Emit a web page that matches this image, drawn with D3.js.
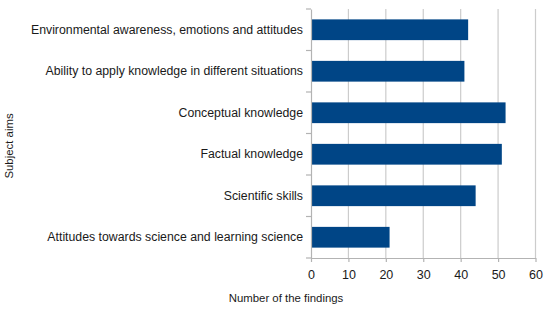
<!DOCTYPE html>
<html>
<head>
<meta charset="utf-8">
<script src="https://cdn.jsdelivr.net/npm/d3@7"></script>
<style>
  body { margin: 0; background: #fff; }
  svg { font-family: "Liberation Sans", Arial, sans-serif; }
</style>
</head>
<body>
<svg></svg>
<script>
const categories = [
    'Environmental awareness, emotions and attitudes',
    'Ability to apply knowledge in different situations',
    'Conceptual knowledge',
    'Factual knowledge',
    'Scientific skills',
    'Attitudes towards science and learning science'
];
const findings = [42, 41, 52, 51, 44, 21];
const xTicks = [0, 10, 20, 30, 40, 50, 60];

const width = 550;
const height = 312;
const plotLeft = 311;
const plotRight = 535.5;
const plotTop = 9;
const plotBottom = 258;

let svg = d3.select('svg')
    .attr('width', width)
    .attr('height', height)

let xScale = d3.scaleLinear()
    .domain([0, 60])
    .range([plotLeft, plotRight])

let yScale = d3.scaleBand()
    .domain(categories)
    .range([plotTop, plotBottom])
    .paddingInner(0.5)
    .paddingOuter(0.25)

// gridlines
svg.append('g')
    .selectAll('line')
    .data(xTicks.slice(1))
    .enter()
    .append('line')
    .attr('x1', d => xScale(d))
    .attr('x2', d => xScale(d))
    .attr('y1', plotTop)
    .attr('y2', plotBottom)
    .attr('stroke', '#cccccc')
    .attr('stroke-width', 1.2)

// bars
svg.selectAll('rect.bar')
    .data(findings)
    .enter()
    .append('rect')
    .attr('class', 'bar')
    .attr('x', xScale(0))
    .attr('y', (d, i) => yScale(categories[i]))
    .attr('width', d => xScale(d) - xScale(0))
    .attr('height', yScale.bandwidth())
    .attr('fill', '#004586')

// x axis
let xAxis = d3.axisBottom(xScale)
    .tickValues(xTicks)
    .tickSize(4)
    .tickSizeOuter(0)
    .tickPadding(8)

let gx = svg.append('g')
    .attr('transform', 'translate(0,' + plotBottom + ')')
    .call(xAxis)
gx.select('.domain').attr('stroke', '#b3b3b3').attr('stroke-width', 1.2)
gx.selectAll('.tick line').attr('stroke', '#b3b3b3').attr('stroke-width', 1.2)
gx.selectAll('.tick text')
    .attr('fill', '#1a1a1a')
    .style('font-size', '12.5px')

// y axis
let yAxis = d3.axisLeft(yScale)
    .tickSize(0)
    .tickPadding(8)

let gy = svg.append('g')
    .attr('transform', 'translate(' + plotLeft + ',0)')
    .call(yAxis)
gy.select('.domain').attr('stroke', '#b3b3b3').attr('stroke-width', 1.2)
gy.selectAll('.tick text')
    .attr('fill', '#1a1a1a')
    .style('font-size', '12.3px')

// category tick marks at band boundaries
svg.append('g')
    .selectAll('line')
    .data(d3.range(categories.length + 1))
    .enter()
    .append('line')
    .attr('x1', plotLeft - 5)
    .attr('x2', plotLeft)
    .attr('y1', i => plotTop + i * (plotBottom - plotTop) / categories.length)
    .attr('y2', i => plotTop + i * (plotBottom - plotTop) / categories.length)
    .attr('stroke', '#b3b3b3')
    .attr('stroke-width', 1.2)

// axis titles
svg.append('text')
    .attr('x', 286)
    .attr('y', 302)
    .attr('text-anchor', 'middle')
    .attr('fill', '#1a1a1a')
    .style('font-size', '11.4px')
    .text('Number of the findings')

svg.append('text')
    .attr('transform', 'translate(13,' + 146 + ') rotate(-90)')
    .attr('text-anchor', 'middle')
    .attr('fill', '#1a1a1a')
    .style('font-size', '11.4px')
    .text('Subject aims')
</script>
</body>
</html>
